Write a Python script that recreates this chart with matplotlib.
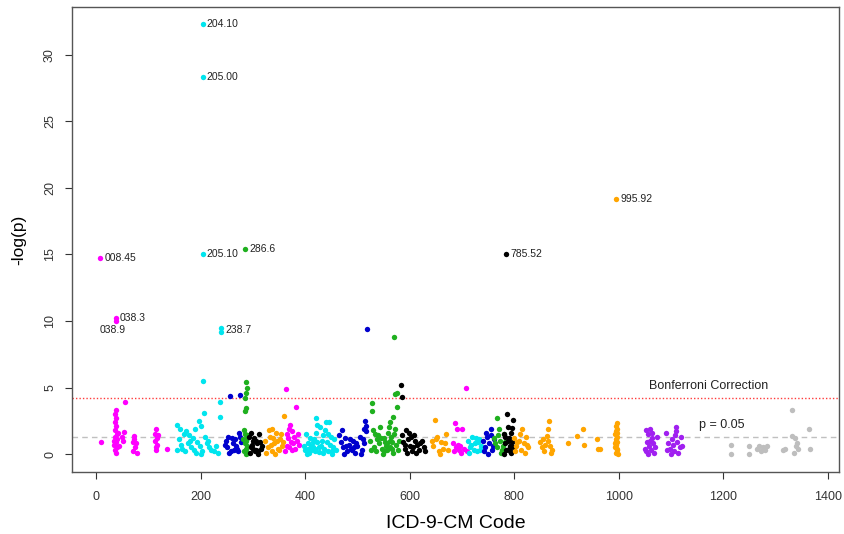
import matplotlib
matplotlib.use('Agg')
import matplotlib.pyplot as plt

plt.rcParams['font.family'] = ['Liberation Sans', 'DejaVu Sans']

# PheWAS results, ICD-9-CM code (numeric) vs -log(p), one pair of lists per colour
magenta_x = [8, 9, 38, 39, 38, 37, 38, 36, 39, 37, 40, 36, 41, 38, 35, 40, 37, 39, 42, 34, 43,
             55, 53, 52, 50, 72, 70, 74, 71, 76, 78, 73, 114, 113, 116, 112, 117, 114, 118, 115, 135,
             363, 382, 370, 365, 375, 368, 372, 378, 384, 366, 380, 388, 362, 374, 386, 371, 376, 369,
             707, 686, 690, 700, 682, 688, 694, 698, 684, 692, 703, 710, 696]
magenta_y = [14.75, 0.9, 10.2, 10.0, 3.3, 3.0, 2.7, 2.4, 2.1, 1.8, 1.5, 1.3, 1.1, 0.9, 0.7, 0.5, 0.3, 0.1, 1.6, 1.0, 0.6,
             3.9, 1.65, 1.0, 1.3, 1.35, 0.9, 0.5, 0.2, 0.8, 0.1, 1.1, 1.9, 1.5, 1.2, 1.0, 0.7, 0.5, 1.4, 0.3, 0.35,
             4.9, 3.55, 1.9, 1.5, 1.7, 1.2, 0.9, 1.3, 1.0, 0.6, 0.4, 0.7, 0.2, 0.3, 1.5, 2.2, 0.8, 0.5,
             5.0, 2.3, 1.9, 1.85, 0.8, 0.5, 0.3, 0.1, 0.2, 0.7, 0.4, 0.2, 0.6]

cyan_x = [204, 204, 204, 239, 239, 205, 238, 206, 238, 197, 155, 160, 172, 168, 190, 200, 185, 180, 176, 162,
          158, 165, 170, 182, 188, 194, 198, 203, 208, 212, 216, 220, 226, 230, 234, 155, 178, 192, 214, 200,
          400, 405, 410, 415, 420, 421, 428, 432, 436, 440, 444, 448, 452, 456, 402, 408, 418, 423, 430, 438,
          446, 454, 412, 426, 434, 442, 458, 398, 416, 450, 423, 404, 411, 419, 427, 435, 443, 451, 406, 414,
          712, 716, 720, 724, 728, 732, 736, 714, 722, 730, 718, 726, 734]
cyan_y = [32.3, 28.35, 15.05, 9.5, 9.2, 5.5, 3.9, 3.1, 2.8, 2.5, 2.2, 1.9, 1.7, 1.5, 1.9, 2.1, 1.2, 1.0, 0.8, 0.7,
          1.1, 0.4, 0.2, 0.5, 0.3, 0.9, 0.6, 0.2, 1.3, 0.8, 0.5, 0.3, 0.2, 0.6, 0.1, 0.3, 1.4, 0.1, 1.0, 0.0,
          0.3, 0.8, 1.2, 0.5, 1.6, 2.7, 2.0, 1.0, 0.4, 2.4, 1.5, 0.7, 0.2, 1.1, 1.5, 0.1, 0.2, 0.9, 0.6, 1.8,
          2.4, 0.5, 0.3, 0.15, 1.4, 0.9, 0.3, 0.6, 1.1, 1.3, 2.2, 0.0, 0.6, 0.4, 0.5, 0.1, 0.2, 0.0, 0.4, 0.9,
          1.0, 0.5, 1.3, 0.8, 0.2, 1.1, 0.6, 0.1, 0.3, 0.9, 0.7, 1.2, 0.3]

blue_x = [256, 276, 248, 250, 252, 258, 262, 266, 270, 274, 278, 254, 260, 268, 272, 276, 264, 246,
          518, 514, 516, 512, 465, 468, 472, 476, 480, 484, 488, 492, 496, 500, 504, 508, 512, 516, 470, 486,
          498, 510, 474, 490, 478, 494, 506,
          755, 740, 744, 748, 752, 758, 762, 742, 750, 746, 760, 756]
blue_y = [4.36, 4.44, 1.0, 0.5, 1.3, 0.2, 0.8, 1.1, 0.4, 1.6, 0.9, 0.1, 1.2, 0.6, 0.2, 1.3, 0.3, 0.7,
          9.4, 2.45, 2.1, 1.9, 1.4, 0.9, 0.5, 1.2, 0.2, 0.7, 0.4, 1.0, 0.1, 0.6, 1.3, 0.3, 0.8, 1.7, 1.8, 1.1,
          0.8, 1.1, 0.0, 0.3, 0.6, 0.5, 0.0,
          1.9, 1.0, 0.5, 1.3, 0.8, 0.3, 1.1, 0.2, 0.0, 1.6, 0.6, 1.4]

green_x = [285, 287, 288, 286, 285, 287, 284, 283, 285, 288, 286, 284, 289, 287, 283, 290, 286, 289, 282,
           570, 528, 527, 572, 575, 576, 568, 562, 530, 534, 538, 542, 546, 550, 554, 558, 560, 564, 566, 570,
           574, 578, 580, 532, 536, 540, 544, 548, 552, 556, 562, 568, 572, 524, 526, 557, 563, 567, 545, 551,
           767, 770, 762, 766, 772, 776, 780, 764, 774, 778, 768, 782]
green_y = [15.4, 5.4, 5.0, 4.6, 4.2, 3.45, 3.2, 1.8, 1.5, 1.2, 1.0, 0.8, 0.6, 0.4, 0.2, 0.1, 0.0, 1.4, 1.1,
           8.8, 3.8, 3.2, 4.55, 4.6, 3.55, 2.8, 2.4, 1.8, 1.5, 1.1, 0.8, 0.4, 1.2, 0.6, 1.6, 2.0, 1.3, 0.9, 1.5,
           0.7, 0.3, 1.0, 0.5, 0.2, 1.4, 2.0, 0.0, 0.9, 0.3, 0.5, 0.1, 1.9, 1.0, 0.3, 0.8, 1.0, 0.4, 1.2, 0.2,
           2.7, 1.9, 1.2, 0.5, 1.0, 0.3, 1.5, 0.8, 0.1, 0.6, 1.4, 0.9]

black_x = [292, 296, 300, 304, 308, 312, 316, 294, 298, 302, 306, 310, 314, 318, 296, 305, 300, 309,
           584, 585, 592, 598, 602, 610, 620, 628, 586, 588, 590, 594, 596, 600, 604, 608, 614, 618, 624, 630,
           591, 606, 612,
           785, 786, 797, 788, 796, 780, 782, 784, 790, 792, 794, 796, 781, 787, 789, 793, 798, 783, 791]
black_y = [1.3, 0.5, 1.0, 0.2, 0.8, 1.5, 0.4, 0.1, 0.7, 1.2, 0.3, 0.0, 0.9, 0.6, 1.6, 1.0, 0.4, 0.2,
           5.2, 4.26, 1.8, 1.6, 1.3, 1.0, 0.8, 0.5, 1.4, 0.9, 0.4, 0.1, 1.1, 0.6, 0.2, 1.4, 0.7, 0.3, 1.0, 0.2,
           0.7, 0.5, 0.1,
           15.05, 3.0, 2.55, 2.0, 1.95, 1.5, 0.8, 0.3, 1.2, 0.6, 0.1, 0.9, 0.0, 1.0, 0.4, 1.6, 0.5, 1.3, 0.2]

orange_x = [359, 324, 328, 332, 336, 340, 344, 348, 352, 356, 326, 330, 334, 338, 342, 346, 350, 354, 358, 336,
            648, 670, 642, 645, 652, 656, 660, 664, 668, 674, 650, 658,
            815, 800, 804, 808, 812, 818, 822, 826, 802, 810, 820, 806, 824,
            866, 864, 862, 865, 850, 852, 856, 868, 872, 858, 870, 854,
            903, 920, 931, 934, 958, 960, 964,
            995, 996, 994, 997, 995, 993, 996, 994, 997, 995, 993, 996, 994, 998, 995, 997, 993, 996]
orange_y = [2.85, 1.0, 0.5, 1.3, 0.2, 0.8, 1.6, 0.4, 1.1, 0.6, 0.1, 1.8, 0.7, 1.2, 0.0, 1.0, 0.3, 1.5, 0.9, 1.9,
            2.55, 1.5, 1.0, 0.6, 1.3, 0.2, 0.9, 0.4, 0.8, 0.3, 1.1, 0.0,
            1.9, 1.2, 0.6, 1.0, 0.3, 0.8, 1.3, 0.5, 0.2, 1.5, 0.1, 0.9, 0.7,
            2.5, 1.9, 1.35, 1.0, 0.9, 0.5, 0.2, 0.6, 0.3, 0.7, 0.1, 1.1,
            0.85, 1.35, 1.85, 0.65, 1.1, 0.35, 0.35,
            19.2, 2.3, 2.1, 1.9, 1.7, 1.5, 1.3, 1.1, 0.9, 0.7, 0.5, 0.3, 0.1, 0.0, 1.0, 0.4, 0.8, 1.6]

purple_x = [1052, 1056, 1060, 1064, 1054, 1058, 1062, 1066, 1050, 1068, 1070, 1056, 1060, 1064, 1072, 1052,
            1090, 1094, 1098, 1102, 1106, 1110, 1110, 1112, 1116, 1118, 1100, 1092, 1104, 1108, 1114, 1120]
purple_y = [1.8, 1.5, 1.9, 1.2, 0.9, 0.6, 0.3, 0.8, 0.4, 0.1, 0.5, 0.0, 1.0, 1.6, 1.3, 0.2,
            1.6, 0.8, 0.4, 1.1, 0.2, 2.0, 1.7, 0.9, 0.5, 1.3, 0.0, 0.3, 0.7, 1.4, 0.1, 0.6]

gray_x = [1215, 1215, 1249, 1249, 1264, 1268, 1272, 1276, 1280, 1283, 1313, 1318,
          1332, 1332, 1336, 1338, 1340, 1342, 1335, 1364, 1365]
gray_y = [0.7, 0.0, 0.6, 0.0, 0.4, 0.6, 0.2, 0.5, 0.3, 0.6, 0.3, 0.35,
          3.3, 1.35, 1.2, 0.6, 0.8, 0.4, 0.1, 1.85, 0.35]

# annotated codes (label, x, y)
lab_text = ['204.10', '205.00', '205.10', '286.6', '008.45', '038.3', '238.7', '785.52', '995.92']
lab_x = [204, 204, 204, 285, 8, 38, 239, 785, 995]
lab_y = [32.3, 28.35, 15.05, 15.4, 14.75, 10.2, 9.35, 15.05, 19.2]

bonferroni = 4.2
p05 = 1.3

fig = plt.figure(figsize=(8.45, 5.34), dpi=100)
ax = fig.add_axes([72/845, 1-472/534, 767/845, 465/534])

groups = [(magenta_x, magenta_y, '#FF00FF'), (cyan_x, cyan_y, '#00E5EE'),
          (blue_x, blue_y, '#0000CD'), (green_x, green_y, '#1FB01F'),
          (black_x, black_y, 'black'), (orange_x, orange_y, '#FFA500'),
          (purple_x, purple_y, '#A020F0'), (gray_x, gray_y, '#BEBEBE')]
for gx, gy, col in groups:
    ax.scatter(gx, gy, s=15, color=col, linewidths=0, zorder=3)

ax.axhline(bonferroni, color='#FF3B3B', linestyle=(0, (1, 1.5)), linewidth=1)
ax.axhline(p05, color='#C0C0C0', linestyle=(0, (4, 3)), linewidth=1)
ax.text(1172, bonferroni + 0.45, 'Bonferroni Correction', fontsize=9, ha='center', va='bottom', color='#222222')
ax.text(1197, p05 + 0.45, 'p = 0.05', fontsize=9, ha='center', va='bottom', color='#222222')

for t, lx, ly in zip(lab_text, lab_x, lab_y):
    ax.annotate(t, (lx, ly), xytext=(3, 0), textcoords='offset points',
                fontsize=7.5, ha='left', va='center', color='#222222')
ax.annotate('038.9', (38, 10.2), xytext=(-2, -5), textcoords='offset points',
            fontsize=7.5, ha='center', va='top', color='#222222')

ax.set_xlim(-46, 1421)
ax.set_ylim(-1.35, 33.6)
ax.set_xticks(range(0, 1401, 200))
ax.set_yticks(range(0, 31, 5))
ax.set_yticklabels([str(v) for v in range(0, 31, 5)], rotation=90, va='center')
ax.tick_params(direction='out', length=5, width=0.8, labelsize=9, colors='#333333')
ax.tick_params(axis='x', pad=9)
ax.tick_params(axis='y', pad=6.5)
for sp in ax.spines.values():
    sp.set_color('#555555')
    sp.set_linewidth(1)

ax.set_xlabel('ICD-9-CM Code', fontsize=14, labelpad=8)
ax.set_ylabel('-log(p)', fontsize=12.5, labelpad=13)

fig.savefig('out.png', dpi=100)
